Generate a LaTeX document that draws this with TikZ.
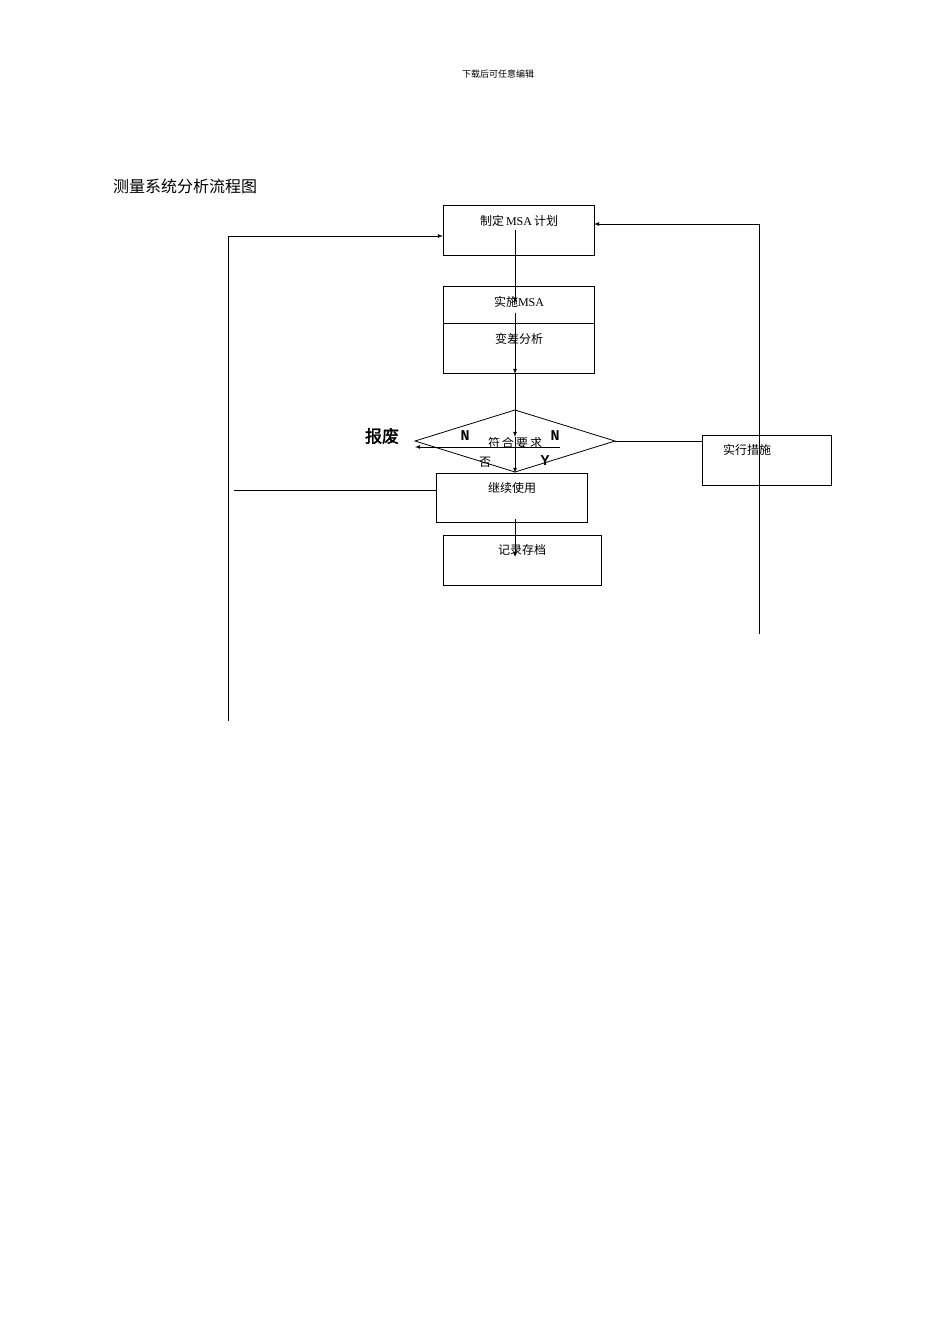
\documentclass[tikz,border=0pt]{standalone}
\usepackage{fontspec}
\setmainfont{Liberation Serif}
\newfontfamily\cjk{Noto Sans CJK SC}
\newfontfamily\cjkb{Noto Sans CJK SC}[FakeBold=2]
\newfontfamily\monof{Liberation Mono}
\begin{document}
\begin{tikzpicture}[x=1pt,y=-1pt,
 bx/.style={draw,line width=0.8pt,inner sep=0},
 ln/.style={line width=0.8pt},
 ar/.style={line width=0.8pt,-latex},
 tx/.style={font=\cjk\fontsize{12}{14}\selectfont,inner sep=0}]
\useasboundingbox (0,0) rectangle (950,1344);
\node[tx,font=\cjk\fontsize{9}{11}\selectfont] (hdr) at (498,74) {下载后可任意编辑};
\node[tx,font=\cjk\fontsize{16}{18}\selectfont,anchor=west] (ttl) at (113,186) {测量系统分析流程图};
% boxes
\draw[ln] (443,205) rectangle (594,255);
\node[tx] (b1) at (519,221) {制定\,\rmfamily MSA\,\cjk 计划};
\draw[ln] (443,286) rectangle (594,373);
\draw[ln] (443,323) -- (594,323);
\node[tx] (b2) at (519,302) {实施\rmfamily MSA};
\node[tx] (b3) at (519,339) {变差分析};
\draw[ln] (415,441) -- (515,410) -- (615,441) -- (515,472) -- cycle;
\draw[ln] (436,473) rectangle (587,522);
\node[tx] (b4) at (512,488) {继续使用};
\draw[ln] (443,535) rectangle (601,585);
\node[tx] (b5) at (522,550) {记录存档};
\draw[ln] (702,435) rectangle (831,485);
\node[tx] (b6) at (747,450) {实行措施};
% labels
\node[tx,font=\cjkb\fontsize{17}{19}\selectfont] (bf) at (382,436) {报废};
\node[inner sep=0,font=\monof\bfseries\fontsize{15}{17}\selectfont] (n1) at (465,436) {N};
\node[inner sep=0,font=\monof\bfseries\fontsize{15}{17}\selectfont] (n2) at (555,436) {N};
\node[inner sep=0,font=\monof\bfseries\fontsize{15}{17}\selectfont] (y1) at (545,461) {Y};
\node[tx] (fh) at (515,443) {符\,合\,要\,求};
\node[tx] (fou) at (485,462) {否};
% connectors
\coordinate (a1) at (515,230); \coordinate (a2) at (515,303);
\draw[ar] (a1) -- (a2);
\coordinate (a3) at (515,313); \coordinate (a4) at (515,374);
\draw[ar] (a3) -- (a4);
\coordinate (a5) at (515,374); \coordinate (a6) at (515,437);
\draw[ar] (a5) -- (a6);
\coordinate (a7) at (515,437); \coordinate (a8) at (515,473);
\draw[ar] (a7) -- (a8);
\coordinate (a9) at (515,519); \coordinate (a10) at (515,557);
\draw[ar] (a9) -- (a10);
\coordinate (r1) at (702,441); \coordinate (r2) at (615,441);
\draw[ln] (r1) -- (r2);
\coordinate (s1) at (560,447); \coordinate (s2) at (415,447);
\draw[ar] (s1) -- (s2);
\coordinate (p1) at (759,634); \coordinate (p2) at (594,224);
\draw[ar] (p1) |- (p2);
\coordinate (q1) at (228,721); \coordinate (q2) at (443,236);
\draw[ar] (q1) |- (q2);
\coordinate (t1) at (234,490); \coordinate (t2) at (436,490);
\draw[ln] (t1) -- (t2);
\end{tikzpicture}
\end{document}
